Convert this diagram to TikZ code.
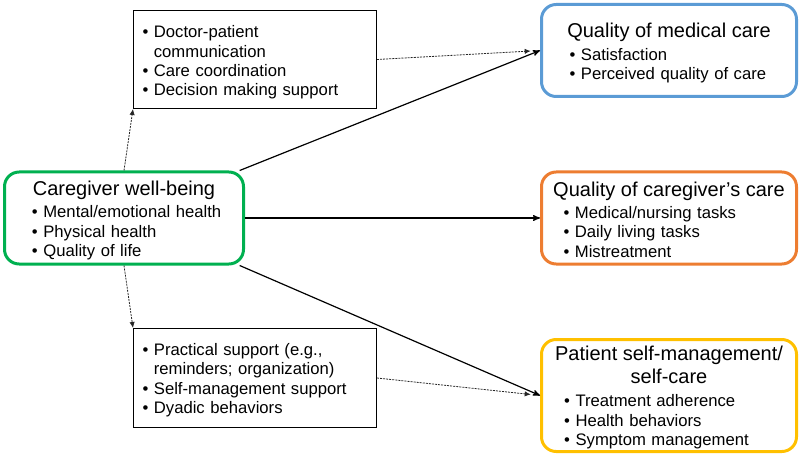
\documentclass[tikz,border=0pt]{standalone}
\usepackage{fontspec}
\setmainfont{Liberation Sans}
\usetikzlibrary{arrows}
\usetikzlibrary{arrows.meta}
\definecolor{wellgreen}{RGB}{0,176,80}
\definecolor{medblue}{RGB}{91,155,213}
\definecolor{careorange}{RGB}{237,125,49}
\definecolor{selfyellow}{RGB}{255,192,0}
\tikzstyle{outcome}=[draw, rounded corners=11pt, line width=2.25pt, inner xsep=0pt, inner ysep=0pt, align=left, font=\fontsize{12.5}{14.6}\selectfont]
\tikzstyle{mediator}=[draw, line width=0.75pt, inner xsep=0pt, inner ysep=0pt, align=left, font=\fontsize{12.5}{14.6}\selectfont]
\tikzstyle{direct}=[-stealth', line width=0.9pt]
\tikzstyle{indirect}=[-{Latex[length=4.5pt,width=4pt]}, dash pattern=on 1.5pt off 0.8pt, line width=0.6pt, black!85]
\newcommand{\boxtitle}[1]{\makebox[\hsize]{\fontsize{15}{17}\selectfont #1}}
\newcommand{\itm}[2]{\hspace*{#1}\textbullet\ #2}
\newcommand{\topgap}[1]{\rule{0pt}{#1}}

\begin{document}
\begin{tikzpicture}[x=0.75pt, y=-0.75pt]
				\useasboundingbox (0,0) rectangle (800,456);
				% caregiver and the outcomes
				\node[outcome, draw=wellgreen, text width=179.25pt, minimum height=69pt] (wellbeing) at (124,218) {\topgap{15pt}\boxtitle{Caregiver well-being}\\[2pt]
					\itm{20.6pt}{Mental/emotional health}\\ \itm{20.6pt}{Physical health}\\ \itm{20.6pt}{Quality of life}};
				\node[outcome, draw=medblue, text width=191.25pt, minimum height=69pt] (quality) at (669,50.5) {\topgap{15pt}\boxtitle{Quality of medical care}\\[2pt]
					\itm{21pt}{Satisfaction}\\ \itm{21pt}{Perceived quality of care}};
				\node[outcome, draw=careorange, text width=191.25pt, minimum height=69pt] (carecare) at (669,218) {\topgap{13.5pt}\boxtitle{Quality of caregiver’s care}\\[2pt]
					\itm{16.5pt}{Medical/nursing tasks}\\ \itm{16.5pt}{Daily living tasks}\\ \itm{16.5pt}{Mistreatment}};
				\node[outcome, draw=selfyellow, text width=191.25pt, minimum height=84pt] (selfcare) at (669,395.5) {\topgap{14pt}\boxtitle{Patient self-management/}\\[2.6pt]
					\boxtitle{self-care}\\[2.4pt]
					\itm{17pt}{Treatment adherence}\\[0.6pt] \itm{17pt}{Health behaviors}\\ \itm{17pt}{Symptom management}};

				% mediating behaviours
				\node[mediator, text width=182.25pt, minimum height=73.5pt] (comm) at (255,59.5) {\topgap{13.5pt}\itm{6.75pt}{Doctor-patient}\\
					\hspace*{6.75pt}\phantom{\textbullet\ }communication\\ \itm{6.75pt}{Care coordination}\\ \itm{6.75pt}{Decision making support}};
				\node[mediator, text width=182.25pt, minimum height=74.25pt] (support) at (255,378) {\topgap{12.5pt}\itm{6.75pt}{Practical support (e.g.,}\\
					\hspace*{6.75pt}\phantom{\textbullet\ }reminders; organization)\\ \itm{6.75pt}{Self-management support}\\ \itm{6.75pt}{Dyadic behaviors}};

				\draw[direct] ([xshift=-4pt]wellbeing.north east) -- (quality.west);
				\draw[direct] (wellbeing.east) -- (carecare.west);
				\draw[direct] ([xshift=-4pt]wellbeing.south east) -- (selfcare.west);

				\draw[indirect] (wellbeing.north) -- (comm.south west);
				\draw[indirect] (wellbeing.south) -- (support.north west);
				\draw[indirect, shorten >=7pt] (comm.east) -- (quality.west);
				\draw[indirect, shorten >=7pt] (support.east) -- (selfcare.west);
			\end{tikzpicture}
\end{document}
